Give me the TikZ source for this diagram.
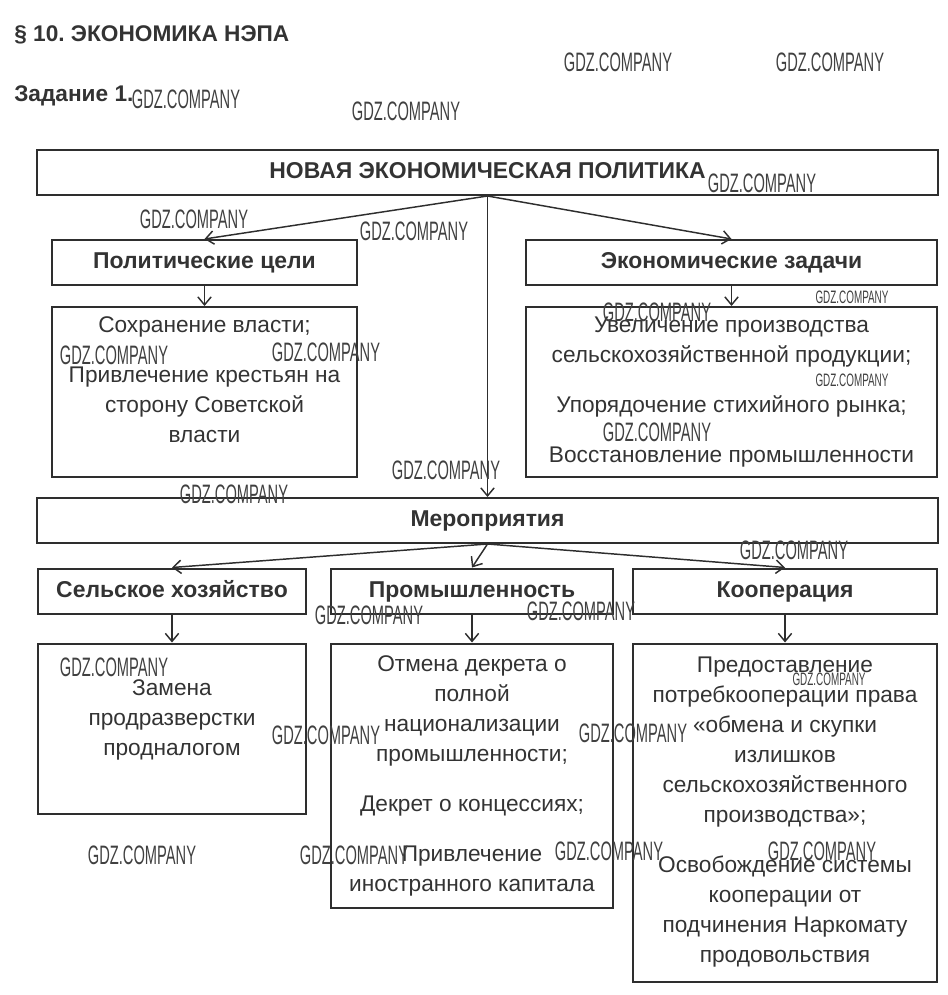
\documentclass[tikz,border=0pt]{standalone}
\usepackage{fontspec}
\setmainfont{Liberation Sans}
\newfontfamily\wmfont[FakeStretch=0.55]{Liberation Sans}
\usepackage{xcolor}
\definecolor{inkgray}{HTML}{333333}
\definecolor{framegray}{HTML}{2E2E2E}
\usetikzlibrary{positioning, arrows.meta}
\frenchspacing

\begin{document}
\begin{tikzpicture}[
  x=0.75pt, y=-0.75pt,
  >={Straight Barb[length=6pt,width=10pt]},
  node distance=15pt,
  head/.style={
    rectangle, draw=framegray, line width=1.5pt, inner sep=0pt,
    minimum height=33.75pt, align=center, text=inkgray,
    text height=12.5pt, text depth=3.5pt,
    font=\fontsize{17.2}{20}\selectfont\bfseries
  },
  info/.style={
    rectangle, draw=framegray, line width=1.5pt, inner sep=0pt,
    align=center, text=inkgray, font=\fontsize{17}{22.5}\selectfont
  },
  caption/.style={
    anchor=west, inner sep=0pt, text=inkgray,
    font=\fontsize{17}{20}\selectfont\bfseries
  },
  link/.style={->, draw=framegray, line width=1.1pt},
  wm/.style={inner sep=0pt, text=black!75, font=\wmfont\fontsize{20}{20}\selectfont},
  wmsmall/.style={inner sep=0pt, text=black!75, font=\wmfont\fontsize{13.5}{13.5}\selectfont}
]
\useasboundingbox (0,0) rectangle (947,995);

\node[caption] (title) at (14,35) {§ 10. ЭКОНОМИКА НЭПА};
\node[caption] (task) at (14,96) {Задание 1.};

% top level
\node[head, minimum width=675.75pt] (nep) at (487.5,172.5) {НОВАЯ ЭКОНОМИЧЕСКАЯ ПОЛИТИКА};
\node[head, minimum width=228.75pt] (pol) at (204.5,262.5) {Политические цели};
\node[head, minimum width=308.25pt] (eco) at (731.5,262.5) {Экономические задачи};
\node[info, minimum width=228.75pt, minimum height=127.5pt, below=of pol] (polc)
  {Сохранение власти;\\[15pt]Привлечение крестьян на\\сторону Советской\\власти\\[-4pt]\mbox{}};
\node[info, minimum width=308.25pt, minimum height=127.5pt, below=of eco] (ecoc)
  {Увеличение производства\\сельскохозяйственной продукции;\\[15pt]Упорядочение стихийного рынка;\\[15pt]Восстановление промышленности};

% measures
\node[head, minimum width=675.75pt] (mer) at (487.5,520.5) {Мероприятия};
\node[head, minimum width=201pt] (agr) at (172,591) {Сельское хозяйство};
\node[head, minimum width=211.5pt] (ind) at (472,591) {Промышленность};
\node[head, minimum width=228pt] (coop) at (785,591) {Кооперация};
\node[info, minimum width=201pt, minimum height=127.5pt, below=21pt of agr] (agrc)
  {Замена\\продразверстки\\продналогом\\[-6pt]\mbox{}};
\node[info, minimum width=211.5pt, minimum height=198pt, below=21pt of ind] (indc)
  {Отмена декрета о\\полной\\национализации\\промышленности;\\[15pt]Декрет о концессиях;\\[15pt]Привлечение\\иностранного капитала};
\node[info, minimum width=228pt, minimum height=253.5pt, below=21pt of coop] (coopc)
  {Предоставление\\потребкооперации права\\«обмена и скупки\\излишков\\сельскохозяйственного\\производства»;\\[15pt]Освобождение системы\\кооперации от\\подчинения Наркомату\\продовольствия};

\draw[link] (nep.south) -- (pol.north);
\draw[link] (nep.south) -- (eco.north);
\draw[link] (nep.south) -- (mer.north);
\draw[link] (pol) -- (polc);
\draw[link] (eco) -- (ecoc);
\draw[link] (mer.south) -- (agr.north);
\draw[link] (mer.south) -- (ind.north);
\draw[link] (mer.south) -- (coop.north);
\draw[link] (agr) -- (agrc);
\draw[link] (ind) -- (indc);
\draw[link] (coop) -- (coopc);

% watermarks
\foreach \wx/\wy [count=\i] in {618/62, 830/62, 186/99, 406/111, 762/183, 194/219,
    414/231, 657/312, 657/432, 114/355, 326/352, 446/470, 234/494, 794/550,
    369/615, 581/611, 114/667, 326/735, 633/733, 142/855, 354/855, 609/851, 822/851}
  \node[wm] (wm\i) at (\wx,\wy) {GDZ.COMPANY};
\foreach \wx/\wy [count=\i] in {852/297, 852/380, 829/679}
  \node[wmsmall] (wms\i) at (\wx,\wy) {GDZ.COMPANY};

\end{tikzpicture}
\end{document}
